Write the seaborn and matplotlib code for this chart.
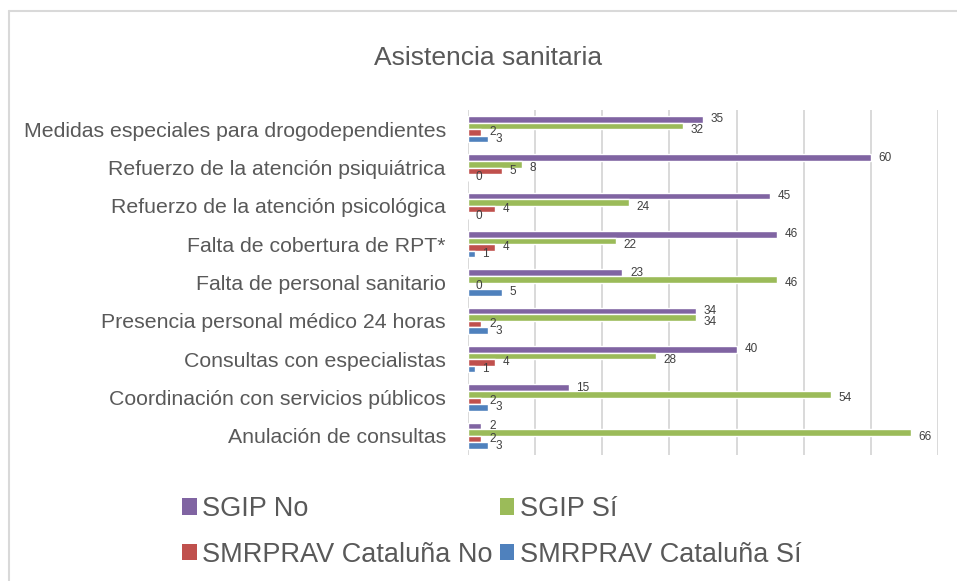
import numpy as np
import pandas as pd
import matplotlib
matplotlib.use('Agg')
import matplotlib.pyplot as plt
from matplotlib.lines import Line2D
from matplotlib.patches import Patch
import seaborn as sns

# ── Data ─────────────────────────────────────────────────────────────────
categories = [
    'Medidas especiales para drogodependientes',
    'Refuerzo de la atención psiquiátrica',
    'Refuerzo de la atención psicológica',
    'Falta de cobertura de RPT*',
    'Falta de personal sanitario',
    'Presencia personal médico 24 horas',
    'Consultas con especialistas',
    'Coordinación con servicios públicos',
    'Anulación de consultas',
]
series = ['SGIP No', 'SGIP Sí', 'SMRPRAV Cataluña No', 'SMRPRAV Cataluña Sí']
sgip_no = [35, 60, 45, 46, 23, 34, 40, 15, 2]
sgip_si = [32, 8, 24, 22, 46, 34, 28, 54, 66]
smrprav_no = [2, 5, 4, 4, 0, 2, 4, 2, 2]
smrprav_si = [3, 0, 0, 1, 5, 3, 1, 3, 3]

colors = ['#8064A2', '#9BBB59', '#C0504D', '#4F81BD']
TEXT = '#595959'
GRID = '#D9D9D9'

df = pd.DataFrame({
    'categoria': categories * 4,
    'serie': np.repeat(series, len(categories)),
    'valor': sgip_no + sgip_si + smrprav_no + smrprav_si,
})

# ── Style ────────────────────────────────────────────────────────────────
sns.set_style('white')
plt.rcParams['font.family'] = ['Liberation Sans', 'DejaVu Sans']

W, H = 957, 581
fig = plt.figure(figsize=(W / 100, H / 100), dpi=100)
ax = fig.add_axes([468 / W, 1 - 455 / H, (938 - 468) / W, (455 - 110) / H])

sns.barplot(data=df, y='categoria', x='valor', hue='serie', order=categories,
            hue_order=series, palette=colors, orient='h', width=0.68,
            saturation=1, ax=ax, legend=False)

# value labels; the green ones sit a little lower, as in the original
for k, cont in enumerate(ax.containers):
    texts = ax.bar_label(cont, padding=5.5, fontsize=8.5, color='#404040')
    if k == 1:
        for t in texts:
            t.set_position((t.get_position()[0], -3))

ax.set_xlim(0, 70)
ax.set_ylim(8.5, -0.5)
ax.set_xticks(np.arange(0, 71, 10))
ax.set_xticklabels([])
ax.grid(axis='x', color=GRID, linewidth=1.4)
ax.grid(axis='y', visible=False)
ax.set_axisbelow(True)
ax.set_xlabel('')
ax.set_ylabel('')
ax.tick_params(axis='both', length=0)
ax.tick_params(axis='y', pad=16, labelsize=15.3, labelcolor=TEXT)
sns.despine(ax=ax, left=True, bottom=True)

# Title
fig.text(488 / W, 1 - 58 / H, 'Asistencia sanitaria', ha='center', va='center',
         fontsize=19, color=TEXT)

# Legend (row-wise: SGIP No, SGIP Sí / SMRPRAV No, SMRPRAV Sí)
handles = [Patch(facecolor=c, edgecolor='none') for c in colors]
order = [0, 2, 1, 3]
fig.legend([handles[i] for i in order], [series[i] for i in order],
           ncol=2, loc='upper left', bbox_to_anchor=(182 / W, 1 - 496 / H),
           frameon=False, fontsize=19.5, labelcolor=TEXT, handlelength=0.55,
           handleheight=0.55, handletextpad=0.2, columnspacing=0.25,
           labelspacing=0.73, borderpad=0, borderaxespad=0)

# Chart-area border (left and top visible)
fig.add_artist(Line2D([8.5 / W, 8.5 / W], [0, 1 - 11 / H], color=GRID, lw=1.5))
fig.add_artist(Line2D([8.5 / W, 1], [1 - 11 / H, 1 - 11 / H], color=GRID, lw=1.5))

fig.savefig('out.png', dpi=100, facecolor='white')
